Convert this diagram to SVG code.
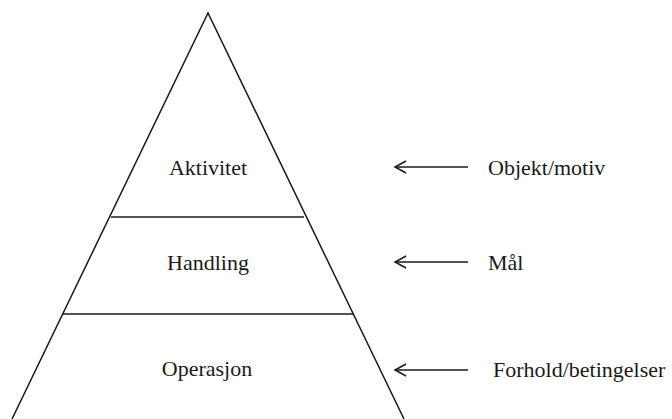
<svg xmlns="http://www.w3.org/2000/svg" width="672" height="419" viewBox="0 0 672 419">
<style>
.ln{stroke:#1a1a1a;stroke-width:1.5;fill:none}
.t{font-family:"Liberation Serif","Times New Roman",serif;font-size:22px;fill:#1a1a1a}
.c{text-anchor:middle}
</style>
<defs>
<marker id="ah" markerWidth="14" markerHeight="14" refX="12" refY="7" orient="auto" markerUnits="userSpaceOnUse">
<path d="M1,1 L12,7 L1,13" fill="none" stroke="#1a1a1a" stroke-width="1.5"/>
</marker>
</defs>
<g id="pyramid">
<path class="ln" d="M12,419 L208,13 L404,419"/>
<line class="ln" x1="111" y1="217" x2="304" y2="217"/>
<line class="ln" x1="62" y1="314" x2="354" y2="314"/>
</g>
<g id="aktivitet"><text class="t c" x="208" y="175">Aktivitet</text></g>
<g id="handling"><text class="t c" x="208" y="270">Handling</text></g>
<g id="operasjon"><text class="t c" x="207" y="376">Operasjon</text></g>
<g id="objekt"><text class="t" x="488" y="175">Objekt/motiv</text></g>
<g id="maal"><text class="t" x="488" y="270">Mål</text></g>
<g id="forhold"><text class="t" x="493" y="377">Forhold/betingelser</text></g>
<g id="connectors">
<line class="ln" x1="468" y1="167" x2="395" y2="167" marker-end="url(#ah)"/>
<line class="ln" x1="468" y1="262" x2="395" y2="262" marker-end="url(#ah)"/>
<line class="ln" x1="468" y1="370" x2="395" y2="370" marker-end="url(#ah)"/>
</g>
</svg>
